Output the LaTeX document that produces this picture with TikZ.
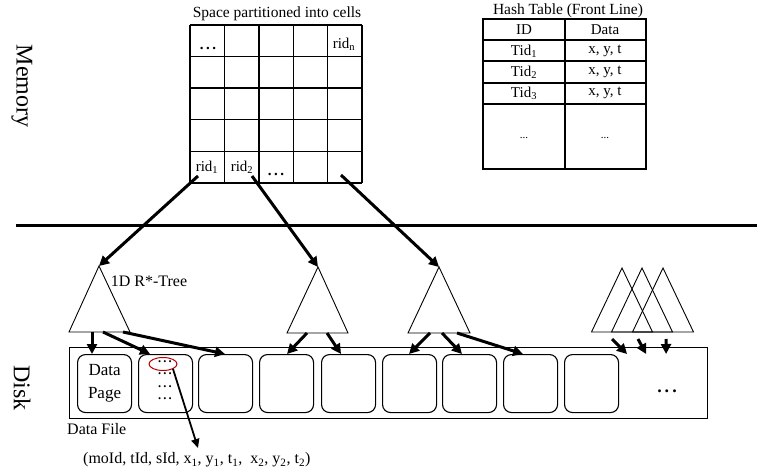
\documentclass[tikz,border=0pt]{standalone}
\usepackage{fontspec}
\setmainfont{Liberation Serif}
\usetikzlibrary{arrows.meta,calc,shapes.geometric}
\begin{document}
\begin{tikzpicture}[x=1pt,y=-1pt,
  txt/.style={font=\fontsize{15}{17}\selectfont, inner sep=0pt},
  lbl/.style={font=\fontsize{16}{18}\selectfont, inner sep=0pt},
  side/.style={font=\fontsize{24}{26}\selectfont, inner sep=0pt, rotate=-90},
  dots/.style={inner sep=0pt, text height=3pt, text depth=0pt, font=\fontsize{15}{17}\bfseries},
  gridline/.style={line width=1.4pt},
  tree/.style={draw, line width=0.9pt, line join=miter},
  pagebox/.style={draw, line width=1.1pt, rounded corners=8pt, minimum width=54pt,
    minimum height=58pt, inner sep=0pt, anchor=north west, align=center,
    font=\fontsize{17}{23}\selectfont},
  fat/.style={line width=3pt, -{Triangle[length=10pt,width=10pt]}},
  slim/.style={line width=1.8pt, -{Triangle[length=9pt,width=8pt]}}
]
\useasboundingbox (0,0) rectangle (757,476);

% --- side labels and the memory/disk divider
\node[side] (mem) at (22,86) {Memory};
\node[side] (dsk) at (22,388) {Disk};
\coordinate (divl) at (16,225);
\coordinate (divr) at (757,225);
\draw[line width=3pt] (divl) -- (divr);

% --- grid of cells
\node[txt, font=\fontsize{15.5}{17}\selectfont] (gtitle) at (277,14) {Space partitioned into cells};
\foreach \i in {0,...,5} \draw[gridline] (190+34.4*\i,25) -- ++(0,158);
\foreach \j in {0,...,5} \draw[gridline] (190,25+31.6*\j) -- ++(172,0);
\node[dots] (gd1) at (208,48) {.\,.\,.};
\node[txt] (ridn) at (344,44) {rid\textsubscript{n}};
\node[txt] (rid1) at (207,167) {rid\textsubscript{1}};
\node[txt] (rid2) at (242,167) {rid\textsubscript{2}};
\node[dots] (gd2) at (276,174) {.\,.\,.};

% --- hash table
\node[txt, font=\fontsize{15.5}{17}\selectfont] (htitle) at (568,11) {Hash Table (Front Line)};
\draw[gridline] (483,19) rectangle (646,169);
\draw[gridline] (565,19) -- (565,169);
\foreach \y in {40,61,83,104} \draw[gridline] (483,\y) -- (646,\y);
\node[txt] (hid) at (524,30) {ID};
\node[txt] (hdata) at (605,30) {Data};
\node[txt] (tid1) at (524,51) {Tid\textsubscript{1}};
\node[txt] (xyt1) at (605,51) {x, y, t};
\node[txt] (tid2) at (524,72) {Tid\textsubscript{2}};
\node[txt] (xyt2) at (605,72) {x, y, t};
\node[txt] (tid3) at (524,93) {Tid\textsubscript{3}};
\node[txt] (xyt3) at (605,93) {x, y, t};
\node[txt, font=\fontsize{11}{13}\selectfont] (hd1) at (524,138) {...};
\node[txt, font=\fontsize{11}{13}\selectfont] (hd2) at (605,138) {...};

% --- 1D R*-trees
\coordinate (t1) at (99,266);  \coordinate (t1l) at (69,332);  \coordinate (t1r) at (130,332);
\coordinate (t2) at (318,267); \coordinate (t2l) at (287,333); \coordinate (t2r) at (348,333);
\coordinate (t3) at (439,267); \coordinate (t3l) at (408,333); \coordinate (t3r) at (470,333);
\draw[tree] (t1l) -- (t1) -- (t1r) -- cycle;
\draw[tree] (t2l) -- (t2) -- (t2r) -- cycle;
\draw[tree] (t3l) -- (t3) -- (t3r) -- cycle;
\foreach \a in {622,642,663}
  \draw[tree] (\a-30.5,332) -- (\a,268) -- (\a+30.5,332) -- cycle;
\node[lbl] (rtree) at (149,281) {1D R*-Tree};

% --- data file with pages
\node[draw, line width=1.1pt, minimum width=638pt, minimum height=71pt, inner sep=0pt,
  anchor=north west] (file) at (69,347) {};
\node[lbl, anchor=west] (flabel) at (67,429) {Data File};
\node[pagebox] (p1) at (77,354) {Data\\Page};
\node[pagebox] (p2) at (138,354) {};
\node[pagebox] (p3) at (198,354) {};
\node[pagebox] (p4) at (259,354) {};
\node[pagebox] (p5) at (321,354) {};
\node[pagebox] (p6) at (382,354) {};
\node[pagebox] (p7) at (442,354) {};
\node[pagebox] (p8) at (503,354) {};
\node[pagebox] (p9) at (564,354) {};
\node[dots, font=\fontsize{18}{20}\bfseries] (fdots) at (667,391) {.\,.\,.};
% records inside a page, one stacked column of dots
\node[inner sep=0pt, align=center, font=\fontsize{12.5}{12.5}\bfseries, anchor=north]
  (precs) at (165,360) {.\,.\,.\\.\,.\,.\\.\,.\,.\\.\,.\,.};
\node[draw=red!70!black, line width=1pt, ellipse, minimum width=28pt, minimum height=13pt,
  inner sep=0pt] (sel) at (163,364) {};

% --- record layout
\node[lbl, anchor=west] (tuple) at (83,460)
  {(moId, tId, sId, x\textsubscript{1}, y\textsubscript{1}, t\textsubscript{1}, \ x\textsubscript{2}, y\textsubscript{2}, t\textsubscript{2})};
\coordinate (tupend) at (198,448);
\draw[slim] ($(sel.center)+(10,5)$) -- (tupend);

% --- cells to trees
\draw[fat] (198,176) -- (t1);
\draw[fat] (252,176) -- (t2);
\draw[fat] (341,175) -- (t3);

% --- trees to pages
\draw[fat] ($(t1l)+(23,0)$) -- ($(p1.north west)+(15,0)$);
\draw[fat] ($(t1l)+(34,0)$) -- ($(p2.north west)+(12,0)$);
\draw[fat] ($(t1l)+(54,0)$) -- ($(p3.north west)+(27,0)$);
\draw[fat] ($(t2l)+(20,0)$) -- ($(p4.north west)+(28,0)$);
\draw[fat] ($(t2l)+(40,0)$) -- ($(p5.north west)+(20,0)$);
\draw[fat] ($(t3l)+(22,0)$) -- ($(p6.north west)+(27,0)$);
\draw[fat] ($(t3l)+(34,0)$) -- ($(p7.north west)+(20,0)$);
\draw[fat] ($(t3l)+(49,0)$) -- ($(p8.north west)+(20,0)$);
\coordinate (m1) at (612,339); \coordinate (m2) at (638,339); \coordinate (m3) at (666,339);
\draw[fat] (m1) -- ($(p9.north east)+(8,0)$);
\draw[fat] (m2) -- ($(p9.north east)+(27,0)$);
\draw[fat] (m3) -- ($(p9.north east)+(47,0)$);
\end{tikzpicture}
\end{document}
